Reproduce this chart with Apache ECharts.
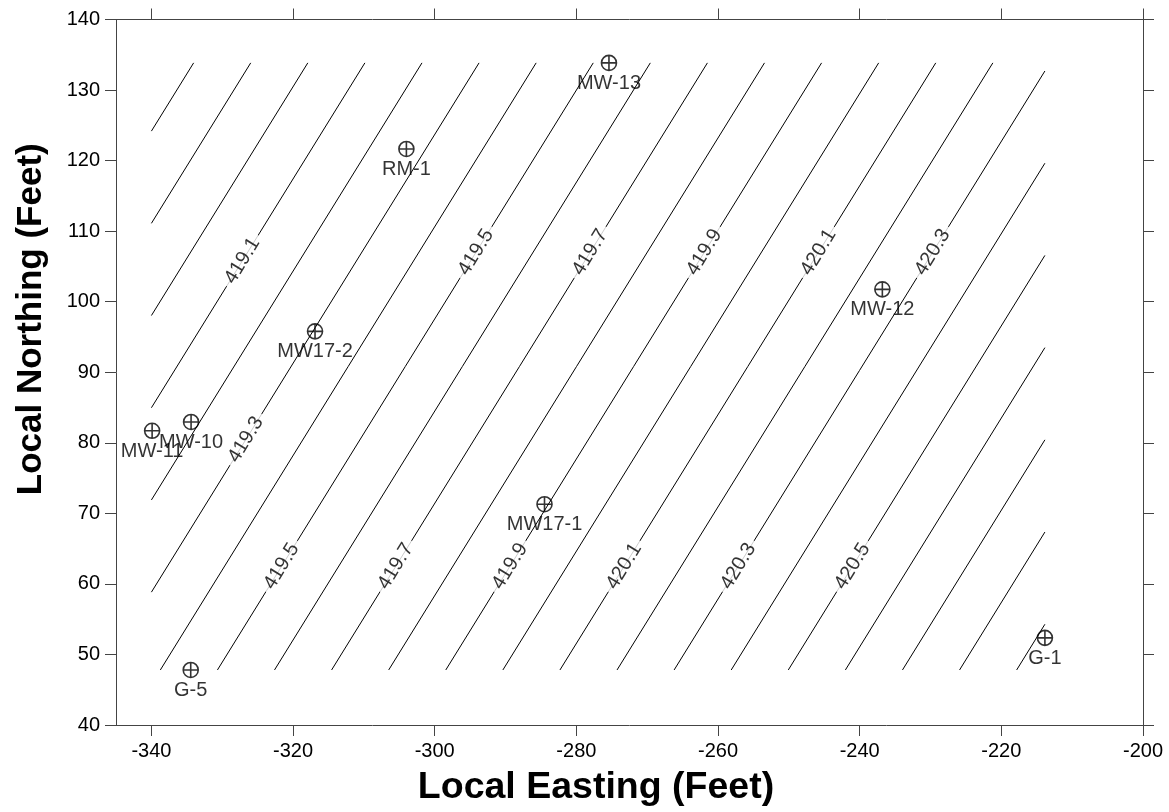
<!DOCTYPE html>
<html>
<head>
<meta charset="utf-8">
<script src="https://cdn.jsdelivr.net/npm/echarts@6/dist/echarts.min.js"></script>
<style>
  html, body { margin: 0; padding: 0; background: #fff; }
  #chart { width: 1169px; height: 812px; }
</style>
</head>
<body>
<div id="chart"></div>
<script>
// ---- Axis ticks ----
const xTicks = [-340, -320, -300, -280, -260, -240, -220, -200];
const yTicks = [40, 50, 60, 70, 80, 90, 100, 110, 120, 130, 140];

// ---- Wells ----
const wellNames = ['MW-13', 'RM-1', 'MW17-2', 'MW-10', 'MW-11', 'G-5', 'MW17-1', 'MW-12', 'G-1'];
const wellX = [-275.4, -304.0, -316.9, -334.4, -339.9, -334.45, -284.5, -236.8, -213.85];
const wellY = [133.85, 121.65, 95.8, 82.95, 81.7, 47.8, 71.3, 101.75, 52.35];

// ---- Contour lines (level, start point, end point) ----
const contourLevels = [418.8, 418.9, 419.0, 419.1, 419.2, 419.3, 419.4, 419.5, 419.6, 419.7, 419.8,
                       419.9, 420.0, 420.1, 420.2, 420.3, 420.4, 420.5, 420.6, 420.7, 420.8, 420.9];
const contourStartX = [-340, -340, -340, -340, -340, -340, -338.74, -330.68, -322.62, -314.56, -306.50,
                       -298.44, -290.38, -282.32, -274.26, -266.20, -258.14, -250.08, -242.02, -233.96, -225.90, -217.84];
const contourStartY = [124.18, 111.11, 98.04, 84.97, 71.90, 58.83, 47.8, 47.8, 47.8, 47.8, 47.8,
                       47.8, 47.8, 47.8, 47.8, 47.8, 47.8, 47.8, 47.8, 47.8, 47.8, 47.8];
const contourEndX = [-334.04, -325.98, -317.92, -309.86, -301.80, -293.74, -285.68, -277.62, -269.56, -261.50, -253.44,
                     -245.38, -237.32, -229.26, -221.20, -213.85, -213.85, -213.85, -213.85, -213.85, -213.85, -213.85];
const contourEndY = [133.85, 133.85, 133.85, 133.85, 133.85, 133.85, 133.85, 133.85, 133.85, 133.85, 133.85,
                     133.85, 133.85, 133.85, 133.85, 132.70, 119.63, 106.56, 93.49, 80.42, 67.35, 54.28];

// ---- Contour labels ----
const labelText = ['419.1', '419.5', '419.7', '419.9', '420.1', '420.3', '419.3',
                   '419.5', '419.7', '419.9', '420.1', '420.3', '420.5'];
const labelX = [-327.16, -294.18, -278.06, -261.94, -245.82, -229.70, -326.67,
                -321.62, -305.50, -289.38, -273.26, -257.14, -241.02];
const labelY = [105.8, 107, 107, 107, 107, 107, 80.45,
                62.5, 62.5, 62.5, 62.5, 62.5, 62.5];

const FONT = '"Liberation Sans", Arial, Helvetica, sans-serif';
const AXIS_COLOR = '#444';

const chart = echarts.init(document.getElementById('chart'), null, { renderer: 'canvas' });

const contourData = contourLevels.map((lv, i) => ({
  name: String(lv),
  coords: [[contourStartX[i], contourStartY[i]], [contourEndX[i], contourEndY[i]]]
}));
const labelData = labelText.map((t, i) => [labelX[i], labelY[i], t]);
const wellData = wellNames.map((n, i) => [wellX[i], wellY[i], n]);

const tickStyle = { show: true, length: 11, inside: false, lineStyle: { color: AXIS_COLOR, width: 1 } };
const lineStyleAxis = { show: true, onZero: false, lineStyle: { color: AXIS_COLOR, width: 1 } };

const option = {
  animation: false,
  backgroundColor: '#fff',
  grid: { left: 116, right: 26, top: 19.5, bottom: 83.5, containLabel: false },
  xAxis: [
    {
      type: 'value', position: 'bottom', min: -345, max: -200,
      axisLine: lineStyleAxis,
      axisTick: Object.assign({}, tickStyle, { customValues: xTicks }),
      axisLabel: { show: true, customValues: xTicks, margin: 16, fontSize: 20, fontFamily: FONT, color: '#000' },
      splitLine: { show: false },
      name: 'Local Easting (Feet)', nameLocation: 'middle', nameGap: 44,
      nameTextStyle: { fontSize: 37.5, fontWeight: 'bold', fontFamily: FONT, color: '#000', padding: [0, 67, 0, 0] }
    },
    {
      type: 'value', position: 'top', min: -345, max: -200,
      axisLine: lineStyleAxis,
      axisTick: Object.assign({}, tickStyle, { customValues: xTicks }),
      axisLabel: { show: false },
      splitLine: { show: false }
    }
  ],
  yAxis: [
    {
      type: 'value', position: 'left', min: 40, max: 140,
      axisLine: lineStyleAxis,
      axisTick: Object.assign({}, tickStyle, { customValues: yTicks }),
      axisLabel: { show: true, customValues: yTicks, margin: 16, fontSize: 20, fontFamily: FONT, color: '#000' },
      splitLine: { show: false },
      name: 'Local Northing (Feet)', nameLocation: 'middle', nameRotate: 90, nameGap: 67,
      nameTextStyle: { fontSize: 35, fontWeight: 'bold', fontFamily: FONT, color: '#000', padding: [0, 0, 0, 106] }
    },
    {
      type: 'value', position: 'right', min: 40, max: 140,
      axisLine: lineStyleAxis,
      axisTick: Object.assign({}, tickStyle, { customValues: yTicks }),
      axisLabel: { show: false },
      splitLine: { show: false }
    }
  ],
  series: [
    {
      type: 'lines',
      coordinateSystem: 'cartesian2d',
      xAxisIndex: 0, yAxisIndex: 0,
      polyline: false,
      silent: true,
      z: 1,
      lineStyle: { color: '#000', width: 1, opacity: 1 },
      data: contourData
    },
    {
      type: 'scatter',
      xAxisIndex: 0, yAxisIndex: 0,
      silent: true,
      z: 2,
      symbol: 'circle',
      symbolSize: 1,
      itemStyle: { color: 'rgba(0,0,0,0)' },
      emphasis: { disabled: true },
      label: {
        show: true,
        position: 'inside',
        formatter: p => p.data[2],
        rotate: 58.4,
        align: 'center',
        verticalAlign: 'middle',
        fontSize: 20,
        fontFamily: FONT,
        color: '#000',
        backgroundColor: '#fff',
        padding: [0, 5, 0, 5]
      },
      data: labelData
    },
    {
      type: 'scatter',
      xAxisIndex: 0, yAxisIndex: 0,
      silent: true,
      z: 3,
      symbol: 'path://M10,0 A10,10 0 1,1 -10,0 A10,10 0 1,1 10,0 Z M-10,0 L10,0 M0,-10 L0,10',
      symbolSize: 15,
      itemStyle: { color: 'rgba(0,0,0,0)', borderColor: '#000', borderWidth: 1.6 },
      emphasis: { disabled: true },
      label: {
        show: true,
        position: 'bottom',
        distance: 2,
        formatter: p => p.data[2],
        fontSize: 20,
        fontFamily: FONT,
        color: '#000'
      },
      labelLayout: { hideOverlap: false },
      data: wellData
    }
  ]
};

chart.setOption(option);
</script>
</body>
</html>
